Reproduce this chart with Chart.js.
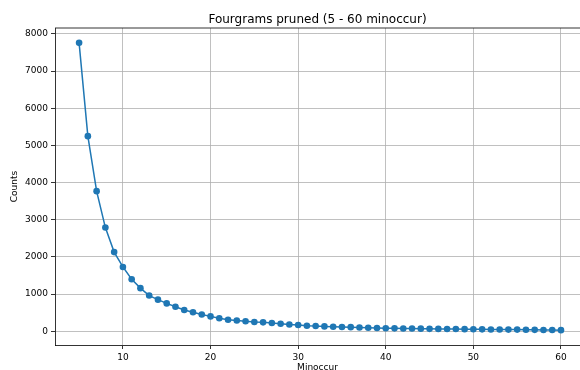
<!DOCTYPE html>
<html>
<head>
  <title>Fourgrams pruned</title>
  <script src="https://cdn.jsdelivr.net/npm/chart.js@4"></script>
  <style>
    html, body { margin: 0; padding: 0; overflow: hidden; background: #fff; }
  </style>
</head>
<body>
  <canvas id="chartCanvas" width="580" height="370"></canvas>

  <script>
    const minoccur = [5, 6, 7, 8, 9, 10, 11, 12, 13, 14, 15, 16, 17, 18, 19, 20,
      21, 22, 23, 24, 25, 26, 27, 28, 29, 30, 31, 32, 33, 34, 35, 36, 37, 38, 39, 40,
      41, 42, 43, 44, 45, 46, 47, 48, 49, 50, 51, 52, 53, 54, 55, 56, 57, 58, 59, 60];
    const counts = [7760, 5250, 3770, 2790, 2130, 1730, 1400, 1160, 960, 850, 750, 660, 570, 510, 450, 400,
      350, 310, 290, 270, 250, 240, 220, 200, 180, 170, 150, 140, 130, 120, 115, 110, 100, 95, 88, 82,
      78, 76, 74, 70, 65, 63, 61, 59, 57, 54, 51, 47, 46, 45, 44, 40, 38, 33, 32, 30];
    const xTicks = [10, 20, 30, 40, 50, 60];
    const yTicks = [0, 1000, 2000, 3000, 4000, 5000, 6000, 7000, 8000];

    Chart.defaults.font.family = 'DejaVu Sans';
    Chart.defaults.color = '#000';

    // top spine (the right one falls outside the picture)
    const frame = {
      id: 'frame',
      afterDraw(chart) {
        const a = chart.chartArea;
        const ctx = chart.ctx;
        ctx.save();
        ctx.strokeStyle = '#000';
        ctx.lineWidth = 0.8;
        ctx.beginPath();
        ctx.moveTo(a.left, a.top);
        ctx.lineTo(a.right, a.top);
        ctx.stroke();
        ctx.restore();
      }
    };

    const ctx = document.getElementById('chartCanvas').getContext('2d');
    new Chart(ctx, {
      type: 'line',
      data: {
        datasets: [{
          data: minoccur.map((m, i) => ({ x: m, y: counts[i] })),
          borderColor: '#1f77b4',
          backgroundColor: '#1f77b4',
          borderWidth: 1.5,
          pointRadius: 3.3,
          pointHoverRadius: 3.3,
          pointBorderWidth: 0,
          tension: 0
        }]
      },
      options: {
        responsive: false,
        animation: false,
        devicePixelRatio: 1,
        layout: { padding: 0, autoPadding: false },
        plugins: {
          legend: { display: false },
          tooltip: { enabled: false },
          title: {
            display: true,
            text: 'Fourgrams pruned (5 - 60 minoccur)',
            fullSize: false,
            font: { size: 12, weight: 'normal' },
            padding: { top: 12.6, bottom: 1 }
          }
        },
        scales: {
          x: {
            type: 'linear',
            min: 2.25,
            max: 62.17,
            afterBuildTicks: s => { s.ticks = xTicks.map(v => ({ value: v })); },
            afterFit: s => { s.height = 25; s.paddingLeft = 0; s.paddingRight = 0; },
            ticks: { font: { size: 9 }, padding: 3, maxRotation: 0, callback: v => String(v) },
            grid: { color: '#b0b0b0', lineWidth: 0.8, tickColor: '#000', tickLength: 4 },
            border: { color: '#000', width: 0.8 },
            title: {
              display: true,
              text: 'Minoccur',
              font: { size: 9 },
              padding: { top: 2, bottom: -3.4 }
            }
          },
          y: {
            min: -370,
            max: 8160,
            afterBuildTicks: s => { s.ticks = yTicks.map(v => ({ value: v })); },
            afterFit: s => { s.width = 55; s.paddingTop = 0; s.paddingBottom = 0; },
            ticks: { font: { size: 9 }, padding: 3, callback: v => String(v) },
            grid: { color: '#b0b0b0', lineWidth: 0.8, tickColor: '#000', tickLength: 4 },
            border: { color: '#000', width: 0.8 },
            title: {
              display: true,
              text: 'Counts',
              font: { size: 9 },
              padding: { top: 9.6, bottom: 0 }
            }
          }
        }
      },
      plugins: [frame]
    });
  </script>
</body>
</html>
